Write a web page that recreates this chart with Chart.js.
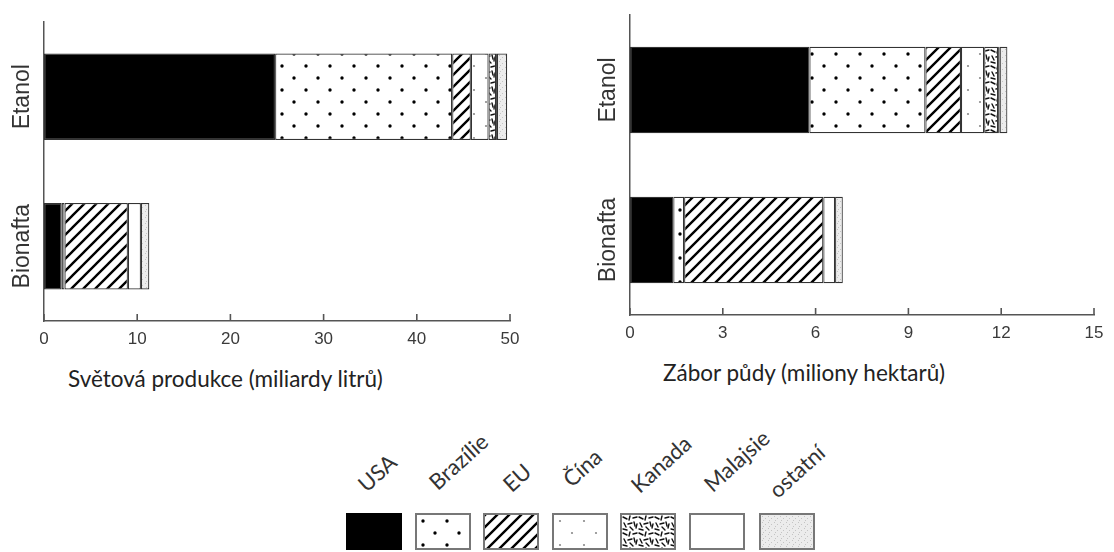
<!DOCTYPE html>
<html><head><meta charset="utf-8">
<script src="https://cdn.jsdelivr.net/npm/chart.js@4.4.1/dist/chart.umd.min.js"></script>
<style>
body{margin:0;background:#fff;width:1114px;height:552px;overflow:hidden;position:relative;font-family:Lato,sans-serif}
#w1{position:absolute;left:0;top:0;width:540px;height:348px}
#w2{position:absolute;left:590px;top:0;width:524px;height:342px}
.title{position:absolute;font-family:Lato;font-size:22.5px;line-height:22px;color:#222;white-space:nowrap}
.sw{position:absolute;top:513px;width:56px;height:37px;box-sizing:border-box;border:2px solid #777;display:block}
.lab{position:absolute;font-family:Lato;font-size:22px;line-height:22px;color:#333;white-space:nowrap;transform:rotate(-42deg)}
</style></head>
<body>
<div id="w1"><canvas id="c1"></canvas></div>
<div id="w2"><canvas id="c2"></canvas></div>
<div class="title" id="t1" style="left:68px;top:368px">Světová produkce (miliardy litrů)</div>
<div class="title" id="t2" style="left:663px;top:362px">Zábor půdy (miliony hektarů)</div>
<div id="legend"></div>
<script>
// ---- data ----
const categories = ['Etanol', 'Bionafta'];
const countries = ['USA', 'Brazílie', 'EU', 'Čína', 'Kanada', 'Malajsie', 'ostatní'];
// World production (billion litres): [Etanol, Bionafta]
const prodUSA      = [24.8, 1.9];
const prodBrazilie = [19.0, 0.3];
const prodEU       = [2.0, 6.8];
const prodCina     = [1.9, 0];
const prodKanada   = [0.8, 0];
const prodMalajsie = [0.1, 1.4];
const prodOstatni  = [1.1, 0.9];
// Land use (million hectares): [Etanol, Bionafta]
const landUSA      = [5.8, 1.4];
const landBrazilie = [3.75, 0.35];
const landEU       = [1.15, 4.5];
const landCina     = [0.75, 0];
const landKanada   = [0.45, 0];
const landMalajsie = [0.05, 0.38];
const landOstatni  = [0.25, 0.25];
const prodTicks = [0, 10, 20, 30, 40, 50];
const landTicks = [0, 3, 6, 9, 12, 15];

const prodSeries = [prodUSA, prodBrazilie, prodEU, prodCina, prodKanada, prodMalajsie, prodOstatni];
const landSeries = [landUSA, landBrazilie, landEU, landCina, landKanada, landMalajsie, landOstatni];

// ---- patterns ----
function tile(w, h, draw) {
  const c = document.createElement('canvas');
  c.width = w; c.height = h;
  const g = c.getContext('2d');
  draw(g, w, h);
  return c;
}
function dot(g, x, y, r, col) { g.fillStyle = col; g.beginPath(); g.arc(x, y, r, 0, Math.PI * 2); g.fill(); }
const tiles = [
  tile(8, 8, (g, w, h) => { g.fillStyle = '#000'; g.fillRect(0, 0, w, h); }),
  tile(24, 24, (g, w, h) => { g.fillStyle = '#fff'; g.fillRect(0, 0, w, h); dot(g, 6, 6, 1.7, '#000'); dot(g, 18, 18, 1.7, '#000'); }),
  tile(12, 12, (g, w, h) => {
    g.fillStyle = '#fff'; g.fillRect(0, 0, w, h);
    g.strokeStyle = '#000'; g.lineWidth = 2.4;
    g.beginPath();
    g.moveTo(-2, 14); g.lineTo(14, -2);
    g.moveTo(-14, 14); g.lineTo(2, -2);
    g.moveTo(10, 14); g.lineTo(26, -2);
    g.stroke();
  }),
  tile(24, 24, (g, w, h) => { g.fillStyle = '#fff'; g.fillRect(0, 0, w, h); dot(g, 6, 6, 1.1, '#8a8a8a'); dot(g, 18, 18, 1.1, '#8a8a8a'); }),
  tile(16, 16, (g, w, h) => {
    g.fillStyle = '#fff'; g.fillRect(0, 0, w, h);
    g.strokeStyle = '#111'; g.lineWidth = 1.4; g.lineCap = 'round';
    const s = [[1,2,5,4],[8,1,7,5],[11,3,15,2],[2,8,4,12],[6,9,10,8],[12,7,13,11],[1,14,5,15],[8,12,11,15],[14,13,15,9]];
    g.beginPath();
    s.forEach(q => { g.moveTo(q[0], q[1]); g.lineTo(q[2], q[3]); });
    g.stroke();
  }),
  tile(8, 8, (g, w, h) => { g.fillStyle = '#fff'; g.fillRect(0, 0, w, h); }),
  tile(6, 6, (g, w, h) => {
    g.fillStyle = '#ececec'; g.fillRect(0, 0, w, h);
    g.fillStyle = '#c4c4c4'; g.fillRect(1, 1, 1, 1); g.fillRect(4, 3, 1, 1); g.fillRect(2, 5, 1, 1);
  })
];

function makePatterns(ctx) { return tiles.map(t => ctx.createPattern(t, 'repeat')); }

// ---- plugin: inward tick marks and rotated category labels ----
const axisDeco = {
  id: 'axisDeco',
  afterDraw(chart) {
    const { ctx, chartArea: a, scales: { x, y } } = chart;
    ctx.save();
    ctx.strokeStyle = '#555'; ctx.lineWidth = 1.6;
    x.ticks.forEach(t => {
      const px = x.getPixelForValue(t.value);
      ctx.beginPath(); ctx.moveTo(px, a.bottom); ctx.lineTo(px, a.bottom - 7); ctx.stroke();
    });
    ctx.fillStyle = '#333';
    ctx.font = '23px "Liberation Sans"';
    ctx.textAlign = 'center'; ctx.textBaseline = 'middle';
    y.getLabels().forEach((lab, i) => {
      const py = y.getPixelForValue(i);
      ctx.save();
      ctx.translate(a.left - 21, py);
      ctx.rotate(-Math.PI / 2);
      ctx.fillText(lab, 0, 0);
      ctx.restore();
    });
    ctx.restore();
  }
};

function build(id, series, maxV, step, pad) {
  const canvas = document.getElementById(id);
  const pats = makePatterns(canvas.getContext('2d'));
  return new Chart(canvas, {
    type: 'bar',
    data: {
      labels: categories,
      datasets: countries.map((name, i) => ({
        label: name,
        data: series[i],
        backgroundColor: pats[i],
        borderColor: '#333',
        borderWidth: c => (c.raw ? 1.2 : 0),
        borderSkipped: false,
        barPercentage: 0.577,
        categoryPercentage: 1
      }))
    },
    options: {
      indexAxis: 'y',
      responsive: true,
      maintainAspectRatio: false,
      animation: false,
      layout: { padding: pad },
      plugins: { legend: { display: false }, tooltip: { enabled: false } },
      scales: {
        x: {
          stacked: true, min: 0, max: maxV,
          grid: { display: false, drawTicks: false, tickLength: 0 },
          border: { display: true, color: '#555', width: 1.5 },
          ticks: { stepSize: step, padding: 8, color: '#3a3a3a', font: { family: 'Liberation Sans', size: 17 } },
          afterFit: s => { s.height = 27; s.paddingLeft = 0; s.paddingRight = 0; }
        },
        y: {
          stacked: true,
          grid: { display: false, drawTicks: false, tickLength: 0 },
          border: { display: true, color: '#555', width: 1.5 },
          ticks: { display: false },
          afterFit: s => { s.width = 0; s.paddingTop = 0; s.paddingBottom = 0; }
        }
      }
    },
    plugins: [axisDeco]
  });
}

build('c1', prodSeries, prodTicks[prodTicks.length - 1], prodTicks[1] - prodTicks[0], { left: 44, top: 22, right: 30, bottom: 0 });
build('c2', landSeries, landTicks[landTicks.length - 1], landTicks[1] - landTicks[0], { left: 40, top: 15, right: 20, bottom: 0 });

// ---- legend ----
const swLeft = [346, 415, 483, 552, 620, 689, 759];
const labDx = [21, 23, 29, 20, 20, 24, 19];
const labBase = [494, 492, 494, 489, 495, 494, 500];
const leg = document.getElementById('legend');
countries.forEach((name, i) => {
  const c = document.createElement('canvas');
  c.width = 52; c.height = 33;
  c.className = 'sw';
  c.style.left = swLeft[i] + 'px';
  if (i === 0) c.style.borderColor = '#000';
  const g = c.getContext('2d');
  g.fillStyle = g.createPattern(tiles[i], 'repeat');
  g.fillRect(0, 0, 52, 33);
  leg.appendChild(c);
  const s = document.createElement('span');
  s.className = 'lab';
  s.textContent = name;
  const fs = 22;
  const asc = 0.887 * fs;
  s.style.left = (swLeft[i] + labDx[i]) + 'px';
  s.style.top = (labBase[i] - asc) + 'px';
  s.style.transformOrigin = '0 ' + asc + 'px';
  leg.appendChild(s);
});
</script>
</body></html>
